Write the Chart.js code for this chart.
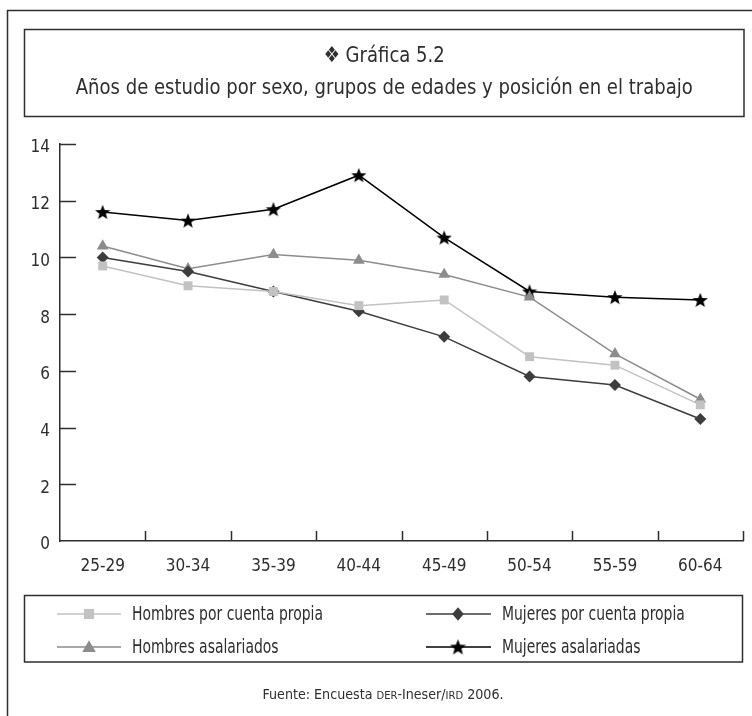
<!DOCTYPE html>
<html>
<head>
<meta charset="utf-8">
<script src="https://cdn.jsdelivr.net/npm/chart.js@4/dist/chart.umd.min.js"></script>
<style>
  html, body { margin: 0; padding: 0; background: #fff; }
  #wrap { width: 752px; height: 716px; }
</style>
</head>
<body>
<div id="wrap"><canvas id="grafica" width="752" height="716"></canvas></div>
<script>
// Grupos de edades (eje X)
const categorias = ['25-29', '30-34', '35-39', '40-44', '45-49', '50-54', '55-59', '60-64'];

// Años de estudio por serie
const hombresCuentaPropia = [9.7, 9.0, 8.8, 8.3, 8.5, 6.5, 6.2, 4.8];
const mujeresCuentaPropia = [10.0, 9.5, 8.8, 8.1, 7.2, 5.8, 5.5, 4.3];
const hombresAsalariados = [10.4, 9.6, 10.1, 9.9, 9.4, 8.6, 6.6, 5.0];
const mujeresAsalariadas = [11.6, 11.3, 11.7, 12.9, 10.7, 8.8, 8.6, 8.5];

// Eje Y
const yMin = 0, yMax = 14, yPaso = 2;

const tituloLinea1 = '\u2756 Gráfica 5.2';
const tituloLinea2 = 'Años de estudio por sexo, grupos de edades y posición en el trabajo';
const fuentePartes = [
  { t: 'Fuente: Encuesta ', sc: false },
  { t: 'DER', sc: true },
  { t: '-Ineser/', sc: false },
  { t: 'IRD', sc: true },
  { t: ' 2006.', sc: false }
];

const FONT = '"DejaVu Sans Condensed", "Liberation Sans Narrow", "Open Sans", sans-serif';
const INK = '#2e2e2e';

// Estrella rellena de cinco puntas como estilo de punto
function hacerEstrella(d, color) {
  const c = document.createElement('canvas');
  c.width = d; c.height = d;
  const g = c.getContext('2d');
  const cx = d / 2, cy = d / 2 + d * 0.04, R = d / 2, r = R * 0.42;
  g.beginPath();
  for (let i = 0; i < 10; i++) {
    const a = -Math.PI / 2 + i * Math.PI / 5;
    const rad = i % 2 === 0 ? R : r;
    const px = cx + rad * Math.cos(a), py = cy + rad * Math.sin(a);
    if (i === 0) g.moveTo(px, py); else g.lineTo(px, py);
  }
  g.closePath();
  g.fillStyle = color;
  g.fill();
  return c;
}
const estrella = hacerEstrella(16, '#000000');
const estrellaLeyenda = hacerEstrella(17, '#000000');

const series = [
  { label: 'Hombres por cuenta propia', data: hombresCuentaPropia, color: '#c2c2c2', style: 'rect', radius: 6.3, legR: 7.2 },
  { label: 'Mujeres por cuenta propia', data: mujeresCuentaPropia, color: '#3d3d3d', style: 'rectRot', radius: 6, legR: 6.8 },
  { label: 'Hombres asalariados', data: hombresAsalariados, color: '#8c8c8c', style: 'triangle', radius: 6.8, legR: 7.8 },
  { label: 'Mujeres asalariadas', data: mujeresAsalariadas, color: '#000000', style: estrella, radius: 8, legR: 8.5, legImg: estrellaLeyenda }
];

function marcador(ctx, s, x, y) {
  const r = s.legR;
  ctx.save();
  ctx.fillStyle = s.color;
  if (s.legImg) {
    ctx.drawImage(s.legImg, x - s.legImg.width / 2, y - s.legImg.height / 2);
  } else if (s.style === 'rect') {
    const h = r * Math.SQRT1_2;
    ctx.fillRect(x - h, y - h, 2 * h, 2 * h);
  } else if (s.style === 'rectRot') {
    ctx.beginPath();
    ctx.moveTo(x, y - r); ctx.lineTo(x + r * 0.85, y); ctx.lineTo(x, y + r); ctx.lineTo(x - r * 0.85, y);
    ctx.closePath(); ctx.fill();
  } else if (s.style === 'triangle') {
    ctx.beginPath();
    for (let i = 0; i < 3; i++) {
      const a = -Math.PI / 2 + i * 2 * Math.PI / 3;
      const px = x + r * Math.cos(a), py = y + r * Math.sin(a) + r * 0.15;
      if (i === 0) ctx.moveTo(px, py); else ctx.lineTo(px, py);
    }
    ctx.closePath(); ctx.fill();
  }
  ctx.restore();
}

// Texto comprimido horizontalmente (tipografía estrecha)
function textoEstrecho(ctx, txt, x, y, sx, align) {
  const w = ctx.measureText(txt).width * sx;
  let x0 = x;
  if (align === 'center') x0 = x - w / 2;
  else if (align === 'right') x0 = x - w;
  ctx.save();
  ctx.translate(x0, y);
  ctx.scale(sx, 1);
  ctx.textAlign = 'left';
  ctx.fillText(txt, 0, 0);
  ctx.restore();
  return w;
}

// Marcos, título, marcas hacia dentro, leyenda y fuente
const decoracion = {
  id: 'decoracion',
  afterDraw(chart) {
    const ctx = chart.ctx;
    const xs = chart.scales.x, ys = chart.scales.y;
    const area = chart.chartArea;
    ctx.save();
    ctx.strokeStyle = INK;
    ctx.lineWidth = 1.5;

    // Marco exterior
    ctx.strokeRect(7.5, 10.5, 760, 720);

    // Recuadro del título
    ctx.strokeRect(24.5, 29.5, 719.5, 87);
    ctx.fillStyle = INK;
    ctx.textBaseline = 'alphabetic';
    ctx.font = '22px ' + FONT;
    const cx = (24.5 + 744) / 2;
    const sxT = 617 / ctx.measureText(tituloLinea2).width;
    textoEstrecho(ctx, tituloLinea1, cx, 62, sxT, 'center');
    textoEstrecho(ctx, tituloLinea2, cx, 94, sxT, 'center');

    // Marcas del eje Y hacia dentro
    ctx.lineWidth = 1.5;
    ys.ticks.forEach(t => {
      if (t.value <= yMin) return;
      const y = Math.round(ys.getPixelForValue(t.value)) + 0.5;
      ctx.beginPath(); ctx.moveTo(area.left, y); ctx.lineTo(area.left + 16, y); ctx.stroke();
    });
    // Marcas del eje X en los límites de cada categoría
    const paso = xs.getPixelForValue(1) - xs.getPixelForValue(0);
    categorias.forEach((c, i) => {
      const x = Math.round(xs.getPixelForValue(i) + paso / 2) + 0.5;
      ctx.beginPath(); ctx.moveTo(x, area.bottom); ctx.lineTo(x, area.bottom - 10); ctx.stroke();
    });

    // Leyenda
    ctx.lineWidth = 1.5;
    ctx.strokeRect(24.5, 595.5, 718, 66.5);
    const cols = [{ l0: 57, l1: 121, m: 89, tx: 132 }, { l0: 426, l1: 491, m: 458, tx: 502 }];
    const filas = [614, 647];
    ctx.font = '20px ' + FONT;
    ctx.textBaseline = 'middle';
    const sxL = 191 / ctx.measureText(series[0].label).width;
    series.forEach((s, i) => {
      const c = cols[i % 2], y = filas[Math.floor(i / 2)];
      ctx.strokeStyle = s.color;
      ctx.lineWidth = 1.5;
      ctx.beginPath(); ctx.moveTo(c.l0, y); ctx.lineTo(c.l1, y); ctx.stroke();
      marcador(ctx, s, c.m, y);
      ctx.fillStyle = INK;
      textoEstrecho(ctx, s.label, c.tx, y + 1, sxL, 'left');
    });

    // Fuente, con versalitas
    ctx.textBaseline = 'alphabetic';
    const fN = '14px ' + FONT, fS = '11px ' + FONT;
    let total = 0;
    fuentePartes.forEach(p => { ctx.font = p.sc ? fS : fN; total += ctx.measureText(p.t).width; });
    const sxF = 241 / total;
    let x = 383 - 241 / 2;
    fuentePartes.forEach(p => {
      ctx.font = p.sc ? fS : fN;
      x += textoEstrecho(ctx, p.t, x, 699, sxF, 'left');
    });
    ctx.restore();
  }
};

Chart.defaults.font.family = FONT;
Chart.defaults.color = INK;

new Chart(document.getElementById('grafica'), {
  type: 'line',
  data: {
    labels: categorias,
    datasets: series.map(s => ({
      label: s.label,
      data: s.data,
      borderColor: s.color,
      backgroundColor: s.color,
      pointBackgroundColor: s.color,
      pointBorderColor: s.color,
      pointBorderWidth: 0,
      pointStyle: s.style,
      pointRadius: s.radius,
      borderWidth: 1.5,
      tension: 0,
      fill: false,
      clip: false
    }))
  },
  options: {
    responsive: false,
    animation: false,
    devicePixelRatio: 1,
    layout: { padding: { top: 144, left: 0, right: 9, bottom: 0 } },
    plugins: { legend: { display: false }, title: { display: false }, tooltip: { enabled: false } },
    scales: {
      x: {
        type: 'category',
        offset: true,
        afterFit: s => { s.height = 175; },
        grid: { display: true, drawOnChartArea: false, drawTicks: false, offset: true, color: 'rgba(0,0,0,0)' },
        border: { display: true, color: INK, width: 1.5 },
        ticks: { font: { size: 17 }, color: INK, padding: 15, maxRotation: 0, autoSkip: false }
      },
      y: {
        min: yMin,
        max: yMax,
        afterFit: s => { s.width = 60; },
        grid: { display: true, drawOnChartArea: false, drawTicks: false, color: 'rgba(0,0,0,0)' },
        border: { display: true, color: INK, width: 1.5 },
        ticks: { stepSize: yPaso, font: { size: 17 }, color: INK, padding: 10, labelOffset: 4 }
      }
    }
  },
  plugins: [decoracion]
});
</script>
</body>
</html>
